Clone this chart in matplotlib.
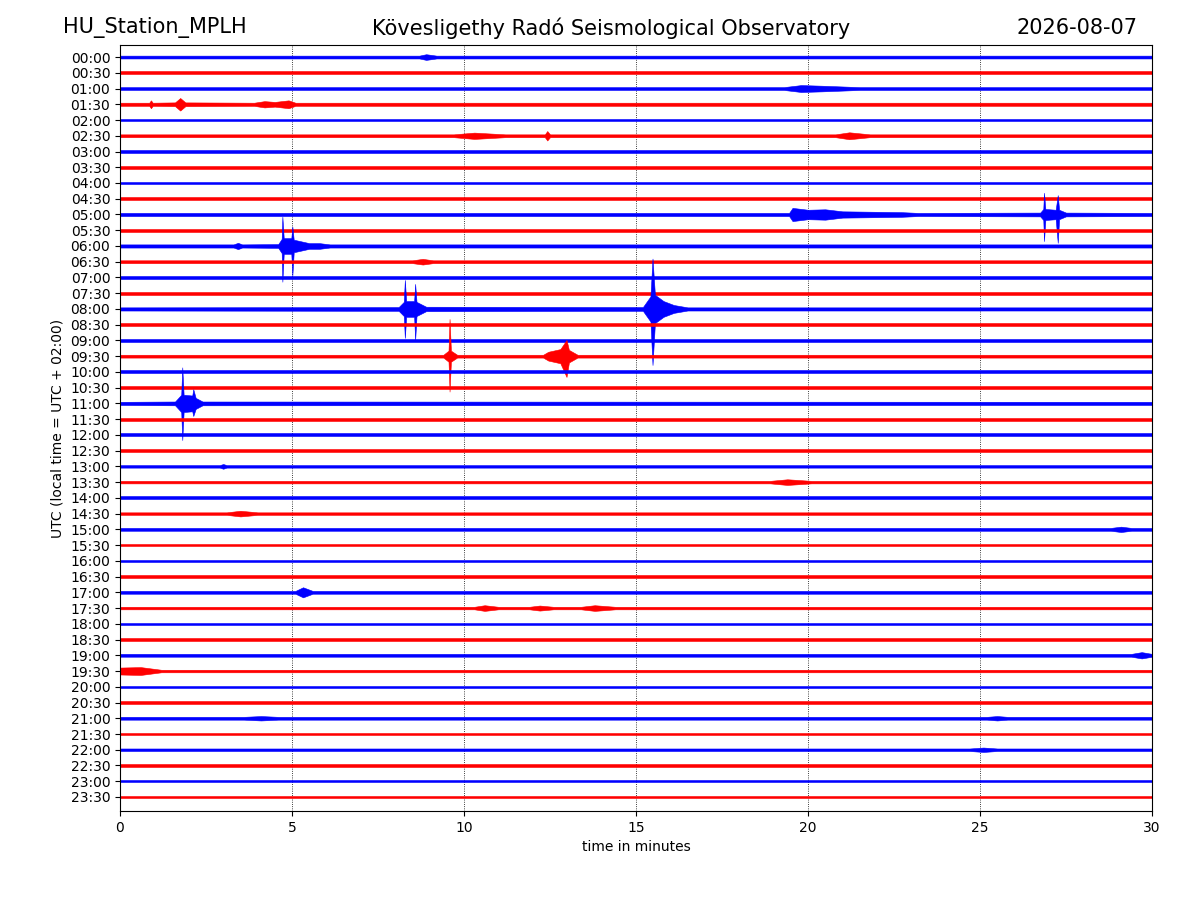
import numpy as np
import matplotlib
matplotlib.use("Agg")
import matplotlib.pyplot as plt

# row labels (UTC), one trace per 30 min
labels = ["%02d:%02d" % (h, m) for h in range(24) for m in (0, 30)]

# background noise half-width of each trace (in row units)
noise = [0.09, 0.09, 0.09, 0.10, 0.08, 0.09, 0.09, 0.08, 0.08, 0.09,
         0.10, 0.09, 0.10, 0.09, 0.10, 0.09, 0.10, 0.09, 0.09, 0.09,
         0.09, 0.09, 0.10, 0.09, 0.09, 0.08, 0.08, 0.08, 0.09, 0.08,
         0.09, 0.08, 0.08, 0.08, 0.09, 0.08, 0.08, 0.08, 0.09, 0.08,
         0.08, 0.08, 0.09, 0.08, 0.08, 0.08, 0.08, 0.08]

# events: row index, envelope vertices (minute, up, down)
ev_rows = [0, 2, 3, 3, 5, 5, 10, 10, 12, 13, 16, 16, 19,
           22, 26, 27, 29, 30, 34, 35, 35, 35, 38, 39, 42, 44]
ev_env = [
    [(8.7, 0.09, 0.09), (8.9, 0.18, 0.18), (9.2, 0.09, 0.09)],
    [(19.3, 0.09, 0.09), (19.8, 0.22, 0.22), (20.4, 0.18, 0.18), (21.5, 0.09, 0.09)],
    [(0.85, 0.1, 0.1), (0.9, 0.25, 0.25), (0.95, 0.1, 0.1),
     (1.6, 0.12, 0.12), (1.75, 0.4, 0.4), (1.9, 0.12, 0.12)],
    [(3.9, 0.1, 0.1), (4.2, 0.2, 0.2), (4.5, 0.15, 0.15), (4.9, 0.25, 0.25), (5.1, 0.1, 0.1)],
    [(9.7, 0.09, 0.09), (10.3, 0.2, 0.2), (11.2, 0.09, 0.09),
     (12.35, 0.09, 0.09), (12.42, 0.3, 0.3), (12.5, 0.09, 0.09)],
    [(20.8, 0.09, 0.09), (21.2, 0.22, 0.22), (21.8, 0.09, 0.09)],
    [(19.45, 0.1, 0.1), (19.55, 0.42, 0.42), (20.0, 0.3, 0.3), (20.5, 0.33, 0.33),
     (21.0, 0.2, 0.2), (22.7, 0.15, 0.15), (23.2, 0.1, 0.1)],
    [(26.75, 0.12, 0.12), (26.84, 0.35, 0.35), (26.86, 1.38, 1.69), (26.9, 0.35, 0.35),
     (27.2, 0.3, 0.3), (27.26, 1.23, 1.8), (27.3, 0.3, 0.3), (27.5, 0.12, 0.12)],
    [(3.3, 0.1, 0.1), (3.43, 0.2, 0.2), (3.55, 0.1, 0.1),
     (4.6, 0.12, 0.12), (4.7, 0.45, 0.45), (4.72, 1.86, 2.27), (4.76, 0.5, 0.5),
     (4.98, 0.5, 0.5), (5.01, 1.23, 1.9), (5.05, 0.4, 0.4), (5.5, 0.18, 0.18),
     (5.8, 0.18, 0.18), (6.1, 0.1, 0.1)],
    [(8.5, 0.09, 0.09), (8.8, 0.18, 0.18), (9.1, 0.09, 0.09)],
    [(8.1, 0.12, 0.12), (8.25, 0.45, 0.45), (8.28, 1.84, 1.84), (8.32, 0.5, 0.5),
     (8.55, 0.5, 0.5), (8.58, 1.59, 1.97), (8.62, 0.45, 0.45), (8.9, 0.14, 0.14)],
    [(15.2, 0.12, 0.12), (15.42, 0.8, 0.8), (15.48, 3.2, 3.56), (15.55, 0.9, 0.9),
     (15.8, 0.5, 0.5), (16.1, 0.25, 0.25), (16.5, 0.1, 0.1)],
    [(9.4, 0.09, 0.09), (9.55, 0.35, 0.35), (9.58, 2.36, 2.25), (9.62, 0.35, 0.35),
     (9.8, 0.09, 0.09),
     (12.3, 0.09, 0.09), (12.45, 0.28, 0.28), (12.8, 0.45, 0.45), (12.98, 1.03, 1.32),
     (13.05, 0.4, 0.4), (13.3, 0.09, 0.09)],
    [(1.6, 0.12, 0.12), (1.78, 0.55, 0.55), (1.81, 2.29, 2.33), (1.85, 0.55, 0.55),
     (2.1, 0.5, 0.5), (2.13, 0.9, 0.8), (2.2, 0.35, 0.35), (2.4, 0.12, 0.12)],
    [(2.9, 0.08, 0.08), (3.0, 0.15, 0.15), (3.1, 0.08, 0.08)],
    [(18.9, 0.08, 0.08), (19.4, 0.18, 0.18), (20.1, 0.08, 0.08)],
    [(3.1, 0.08, 0.08), (3.5, 0.18, 0.18), (4.0, 0.08, 0.08)],
    [(28.8, 0.09, 0.09), (29.1, 0.17, 0.17), (29.4, 0.09, 0.09)],
    [(5.1, 0.09, 0.09), (5.32, 0.32, 0.32), (5.6, 0.09, 0.09)],
    [(10.3, 0.08, 0.08), (10.6, 0.18, 0.18), (11.0, 0.08, 0.08)],
    [(11.9, 0.08, 0.08), (12.2, 0.16, 0.16), (12.6, 0.08, 0.08)],
    [(13.4, 0.08, 0.08), (13.8, 0.18, 0.18), (14.4, 0.08, 0.08)],
    [(29.4, 0.09, 0.09), (29.7, 0.2, 0.2), (30.0, 0.17, 0.17)],
    [(0.0, 0.22, 0.22), (0.6, 0.25, 0.25), (1.2, 0.08, 0.08)],
    [(3.6, 0.09, 0.09), (4.1, 0.14, 0.14), (4.6, 0.09, 0.09),
     (25.2, 0.09, 0.09), (25.5, 0.14, 0.14), (25.8, 0.09, 0.09)],
    [(24.7, 0.08, 0.08), (25.1, 0.14, 0.14), (25.5, 0.08, 0.08)],
]

fig = plt.figure(figsize=(12, 9), dpi=100)
ax = fig.add_axes([0.1, 0.0989, 0.86, 0.851])

for i, lab in enumerate(labels):
    col = 'b' if i % 2 == 0 else 'r'
    pts = [(0.0, noise[i], noise[i]), (30.0, noise[i], noise[i])]
    for r, env in zip(ev_rows, ev_env):
        if r == i:
            pts += env
    pts.sort(key=lambda p: p[0])
    t = np.array([p[0] for p in pts])
    up = np.array([p[1] for p in pts])
    dn = np.array([p[2] for p in pts])
    ax.fill_between(t, i - up, i + dn, color=col, linewidth=0.4, zorder=2)

ax.set_xlim(0, 30)
ax.set_ylim(47.89, -0.76)
ax.set_yticks(range(len(labels)))
ax.set_yticklabels(labels)
ax.set_xticks([0, 5, 10, 15, 20, 25, 30])
ax.grid(axis='x', color='k', linestyle=':', linewidth=0.6, zorder=1)
ax.set_xlabel('time in minutes')
ax.set_ylabel('UTC (local time = UTC + 02:00)')

fig.text(0.0525, 0.969, 'HU_Station_MPLH', fontsize=15, ha='left', va='center')
fig.text(0.509, 0.969, 'Kövesligethy Radó Seismological Observatory', fontsize=15, ha='center', va='center')
fig.text(0.948, 0.969, '2026-08-07', fontsize=15, ha='right', va='center')

fig.savefig('out.png', dpi=100)
